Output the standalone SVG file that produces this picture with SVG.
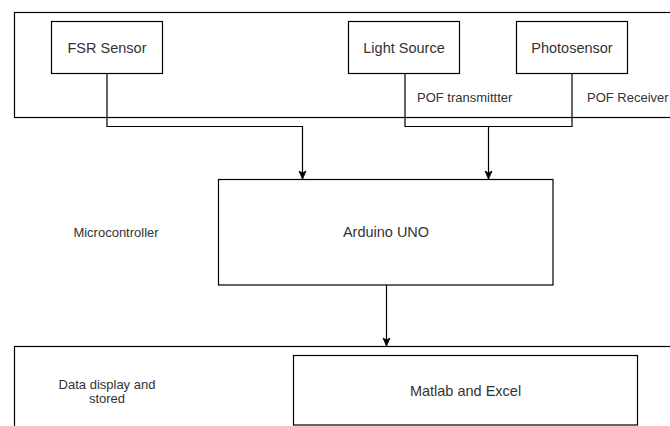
<svg xmlns="http://www.w3.org/2000/svg" width="670" height="426" viewBox="0 0 670 426">
<style>
.box{fill:#fff;stroke:#000;stroke-width:1.2}
.cont{fill:none;stroke:#000;stroke-width:1.2}
.lbl{font-family:"Liberation Sans",Arial,sans-serif;font-size:14.5px;fill:#333;text-anchor:middle}
.sm{font-family:"Liberation Sans",Arial,sans-serif;font-size:13px;fill:#333}
.mid{text-anchor:middle}
.wire{fill:none;stroke:#000;stroke-width:1.2}
</style>
<defs>
<marker id="arr" markerUnits="userSpaceOnUse" markerWidth="10" markerHeight="10" viewBox="0 0 10 10" refX="9" refY="5" orient="auto">
<path d="M1,1.5 L9,5 L1,8.5 L3,5 z" fill="#000" stroke="#000" stroke-width="0.8"/>
</marker>
</defs>
<rect width="670" height="426" fill="#fff"/>
<g id="container-top">
<rect class="cont" x="14.5" y="12.5" width="680" height="105"/>
</g>
<g id="container-bottom">
<rect class="cont" x="14.5" y="346.5" width="680" height="100"/>
</g>
<g id="fsr">
<rect class="box" x="51.5" y="21.5" width="111" height="52"/>
<text class="lbl" x="107" y="52.5">FSR Sensor</text>
</g>
<g id="light">
<rect class="box" x="348.5" y="21.5" width="111" height="52"/>
<text class="lbl" x="404" y="52.5">Light Source</text>
</g>
<g id="photo">
<rect class="box" x="516.5" y="21.5" width="111" height="52"/>
<text class="lbl" x="572" y="52.5">Photosensor</text>
</g>
<g id="pof-tx"><text class="sm" x="417" y="101.5">POF transmittter</text></g>
<g id="pof-rx"><text class="sm" x="587" y="101.5">POF Receiver</text></g>
<g id="arduino">
<rect class="box" x="218.5" y="179.5" width="334.5" height="105.5"/>
<text class="lbl" x="386" y="237">Arduino UNO</text>
</g>
<g id="micro"><text class="sm mid" x="116" y="237">Microcontroller</text></g>
<g id="matlab">
<rect class="box" x="293.5" y="355.5" width="344" height="69.5"/>
<text class="lbl" x="465.5" y="395.5">Matlab and Excel</text>
</g>
<g id="data-label">
<text class="sm mid" x="107" y="388.5">Data display and</text>
<text class="sm mid" x="107" y="403">stored</text>
</g>
<g id="connectors">
<path class="wire" d="M107,73.5 V126.5 H302.5 V179" marker-end="url(#arr)"/>
<path class="wire" d="M405,73.5 V126.5 H572 V73.5"/>
<path class="wire" d="M488.5,126.5 V179" marker-end="url(#arr)"/>
<path class="wire" d="M386.5,285 V346" marker-end="url(#arr)"/>
</g>
</svg>
